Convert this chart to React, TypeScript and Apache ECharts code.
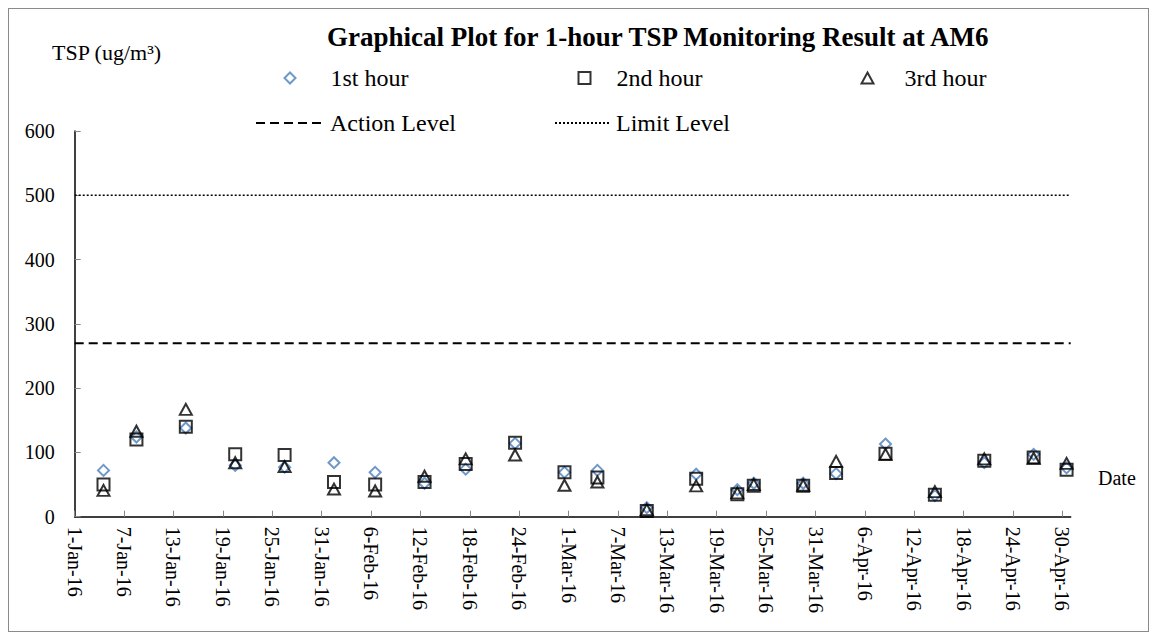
import React, { useEffect, useRef } from "react";
import * as echarts from "echarts";

const MONTHS = ["Jan", "Feb", "Mar", "Apr", "May", "Jun", "Jul", "Aug", "Sep", "Oct", "Nov", "Dec"];

const SAMPLE_DATES = [
  "4-Jan-16", "8-Jan-16", "14-Jan-16", "20-Jan-16", "26-Jan-16", "1-Feb-16", "6-Feb-16",
  "12-Feb-16", "17-Feb-16", "23-Feb-16", "29-Feb-16", "4-Mar-16", "10-Mar-16", "16-Mar-16",
  "21-Mar-16", "23-Mar-16", "29-Mar-16", "2-Apr-16", "8-Apr-16", "14-Apr-16", "20-Apr-16",
  "26-Apr-16", "30-Apr-16",
];
const FIRST_HOUR = [72, 124, 138, 80, 77, 84, 69, 52, 74, 114, 69, 72, 14, 66, 42, 52, 52, 67, 113, 33, 84, 97, 76];
const SECOND_HOUR = [50, 120, 140, 97, 96, 54, 50, 54, 82, 115, 69, 61, 9, 59, 35, 48, 48, 68, 98, 34, 87, 92, 73];
const THIRD_HOUR = [41, 133, 167, 84, 78, 43, 40, 63, 90, 96, 49, 54, 11, 48, 37, 50, 49, 86, 97, 39, 90, 91, 83];

const X_TICK_LABELS = [
  "1-Jan-16", "7-Jan-16", "13-Jan-16", "19-Jan-16", "25-Jan-16", "31-Jan-16", "6-Feb-16",
  "12-Feb-16", "18-Feb-16", "24-Feb-16", "1-Mar-16", "7-Mar-16", "13-Mar-16", "19-Mar-16",
  "25-Mar-16", "31-Mar-16", "6-Apr-16", "12-Apr-16", "18-Apr-16", "24-Apr-16", "30-Apr-16",
];
const ACTION_LEVEL = 270;
const LIMIT_LEVEL = 500;
const Y_MIN = 0;
const Y_MAX = 600;
const Y_STEP = 100;

const FONT = "Liberation Serif, serif";

function dayIndex(label: string): number {
  const [d, m] = label.split("-");
  const mi = MONTHS.indexOf(m);
  return Math.round((Date.UTC(2016, mi, Number(d)) - Date.UTC(2016, 0, 1)) / 86400000);
}

const X_MIN = dayIndex(X_TICK_LABELS[0]);
const X_MAX = dayIndex(X_TICK_LABELS[X_TICK_LABELS.length - 1]) + 1;
const TICK_VALUES = X_TICK_LABELS.map(dayIndex);
const LABEL_BY_DAY: Record<number, string> = {};
X_TICK_LABELS.forEach((l) => (LABEL_BY_DAY[dayIndex(l)] = l));

const toPoints = (vals: number[]) => SAMPLE_DATES.map((d, i) => [dayIndex(d) + 0.5, vals[i]]);

export default function App() {
  const ref = useRef<HTMLDivElement>(null);
  useEffect(() => {
    if (!ref.current) return;
    const chart = echarts.init(ref.current, null, { renderer: "svg" });
    const legendText = (pad: number) => ({
      fontFamily: FONT,
      fontSize: 24,
      color: "#000",
      lineHeight: 24,
      padding: [0, 0, 0, pad],
    });
    const lineLegend = { itemStyle: { opacity: 0 } };
    chart.setOption({
      animation: false,
      backgroundColor: "#fff",
      title: {
        text: "Graphical Plot for 1-hour TSP Monitoring Result at AM6",
        left: 318,
        top: 13,
        padding: 0,
        textStyle: { fontFamily: FONT, fontSize: 27, fontWeight: "bold", color: "#000", lineHeight: 30 },
      },
      legend: [
        {
          data: ["1st hour"], left: 274.5, top: 57, padding: 0, itemWidth: 11, itemHeight: 11,
          textStyle: legendText(30),
        },
        {
          data: ["2nd hour"], left: 568.5, top: 57, padding: 0, itemWidth: 12, itemHeight: 12,
          textStyle: legendText(21),
        },
        {
          data: ["3rd hour"], left: 851.5, top: 57, padding: 0, itemWidth: 12, itemHeight: 11,
          textStyle: legendText(26),
        },
        {
          data: ["Action Level"], left: 246, top: 102, padding: 0, itemWidth: 65, itemHeight: 12,
          textStyle: legendText(4),
          ...lineLegend,
        },
        {
          data: ["Limit Level"], left: 545, top: 102, padding: 0, itemWidth: 56, itemHeight: 12,
          textStyle: legendText(0),
          ...lineLegend,
        },
      ],
      grid: { left: 65.7, right: 77.3, top: 122, bottom: 114.3, containLabel: false },
      xAxis: {
        type: "value",
        min: X_MIN,
        max: X_MAX,
        splitLine: { show: false },
        axisLine: { lineStyle: { color: "#000", width: 1.5 } },
        axisTick: { inside: true, length: 6, customValues: TICK_VALUES, lineStyle: { color: "#888", width: 1 } },
        axisLabel: {
          customValues: TICK_VALUES,
          rotate: -90,
          margin: 10,
          fontFamily: FONT,
          fontSize: 20,
          color: "#000",
          formatter: (v: number) => LABEL_BY_DAY[Math.round(v)] ?? "",
        },
      },
      yAxis: {
        type: "value",
        min: Y_MIN,
        max: Y_MAX,
        interval: Y_STEP,
        splitLine: { show: false },
        axisLine: { show: true, lineStyle: { color: "#000", width: 1.5 } },
        axisTick: { show: true, inside: true, length: 6, lineStyle: { color: "#888", width: 1 } },
        axisLabel: { margin: 20, fontFamily: FONT, fontSize: 20, color: "#000" },
      },
      graphic: [
        {
          type: "text",
          x: 43,
          y: 43,
          style: { text: "TSP (ug/m³)", fontFamily: FONT, fontSize: 22, fill: "#000", align: "left", verticalAlign: "middle" },
        },
        {
          type: "text",
          x: 1089,
          y: 469,
          style: { text: "Date", fontFamily: FONT, fontSize: 20, fill: "#000", align: "left", verticalAlign: "middle" },
        },
      ],
      series: [
        {
          name: "1st hour",
          type: "scatter",
          symbol: "diamond",
          symbolSize: 11,
          data: toPoints(FIRST_HOUR),
          itemStyle: { color: "rgba(0,0,0,0)", borderColor: "#4a7ebb", borderWidth: 2 },
          z: 3,
        },
        {
          name: "2nd hour",
          type: "scatter",
          symbol: "rect",
          symbolSize: 12,
          data: toPoints(SECOND_HOUR),
          itemStyle: { color: "rgba(0,0,0,0)", borderColor: "#000", borderWidth: 2 },
          z: 4,
        },
        {
          name: "3rd hour",
          type: "scatter",
          symbol: "triangle",
          symbolSize: [12, 11],
          data: toPoints(THIRD_HOUR),
          itemStyle: { color: "rgba(0,0,0,0)", borderColor: "#000", borderWidth: 2 },
          z: 5,
        },
        {
          name: "Action Level",
          type: "line",
          symbol: "none",
          data: [[X_MIN, ACTION_LEVEL], [X_MAX, ACTION_LEVEL]],
          lineStyle: { color: "#000", width: 2, type: [9, 5] },
          itemStyle: { color: "#000" },
          z: 2,
        },
        {
          name: "Limit Level",
          type: "line",
          symbol: "none",
          data: [[X_MIN, LIMIT_LEVEL], [X_MAX, LIMIT_LEVEL]],
          lineStyle: { color: "#000", width: 1.5, type: [2, 2] },
          itemStyle: { color: "#000" },
          z: 2,
        },
      ],
    });
    return () => chart.dispose();
  }, []);

  return (
    <div style={{ width: 1141, height: 624, border: "1px solid #8a8a8a", boxSizing: "border-box" }}>
      <div ref={ref} style={{ width: 1139, height: 622 }} />
    </div>
  );
}
